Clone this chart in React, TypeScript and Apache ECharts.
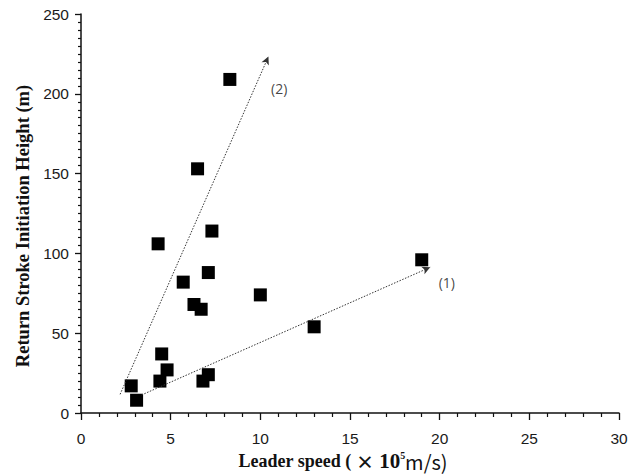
import React, { useEffect, useRef } from "react";
import * as echarts from "echarts";

// Leader speed (×10^5 m/s) and return-stroke initiation height (m)
const speeds = [2.8, 3.1, 4.4, 4.5, 4.8, 4.3, 5.7, 6.3, 6.7, 7.1, 6.8, 7.1, 10.0, 13.0, 19.0, 8.3, 6.5, 7.3];
const heights = [17, 8, 20, 37, 27, 106, 82, 68, 65, 88, 20, 24, 74, 54, 96, 209, 153, 114];

// Trend arrows: [startX, startY, endX, endY]
const trendNames = ["(1)", "(2)"];
const trendArrows = [
  [3.38, 11.3, 19.47, 91.3],
  [2.18, 11.7, 10.45, 223.3],
];
const trendLabelPos = [
  [20.4, 82],
  [11.05, 203.5],
];

const xTicks = [0, 30, 5];
const yTicks = [0, 250, 50];

export default function App() {
  const ref = useRef<HTMLDivElement>(null);

  useEffect(() => {
    if (!ref.current) return;
    const chart = echarts.init(ref.current, null, { renderer: "svg" });

    const axisColor = "#111";
    const tickFont = { fontFamily: "Liberation Sans", fontSize: 15.5, color: "#1a1a1a" };

    chart.setOption({
      animation: false,
      backgroundColor: "#fff",
      grid: { left: 81, right: 21, top: 14, bottom: 62 },
      xAxis: {
        type: "value",
        min: xTicks[0],
        max: xTicks[1],
        interval: xTicks[2],
        splitLine: { show: false },
        axisLine: { lineStyle: { color: axisColor, width: 1.5 } },
        axisTick: { length: 7, lineStyle: { color: axisColor, width: 1.3 } },
        minorTick: { show: true, splitNumber: 5, length: 4, lineStyle: { color: axisColor, width: 1.2 } },
        axisLabel: { ...tickFont, margin: 17 },
      },
      yAxis: {
        type: "value",
        min: yTicks[0],
        max: yTicks[1],
        interval: yTicks[2],
        splitLine: { show: false },
        axisLine: { show: true, lineStyle: { color: axisColor, width: 1.5 } },
        axisTick: { show: true, length: 6, lineStyle: { color: axisColor, width: 1.3 } },
        minorTick: { show: true, splitNumber: 10, length: 3, lineStyle: { color: axisColor, width: 1.2 } },
        axisLabel: { ...tickFont, margin: 12 },
      },
      graphic: [
        {
          type: "text",
          x: 22.5,
          y: 226,
          rotation: Math.PI / 2,
          style: {
            text: "Return Stroke Initiation Height (m)",
            font: "bold 18.5px 'Liberation Serif'",
            fill: "#111",
            align: "center",
            verticalAlign: "middle",
          },
        },
        {
          type: "text",
          x: 343,
          y: 461,
          style: {
            text: "{a|Leader speed ( }{b|×}{c| 10}{s|5}{d|m/s)}",
            align: "center",
            verticalAlign: "middle",
            rich: {
              a: { font: "bold 18px 'Liberation Serif'", fill: "#111" },
              b: { font: "bold 18px 'Noto Sans CJK JP'", fill: "#111" },
              c: { font: "bold 21px 'Liberation Serif'", fill: "#111" },
              s: { font: "bold 10px 'Liberation Serif'", fill: "#111", verticalAlign: "top", padding: [0, 0, 10, 0] },
              d: { font: "20px 'Noto Sans CJK JP'", fill: "#111" },
            },
          },
        },
      ],
      series: [
        {
          type: "scatter",
          symbol: "rect",
          symbolSize: 13,
          itemStyle: { color: "#000", opacity: 1 },
          data: speeds.map((s, i) => [s, heights[i]]),
          markLine: {
            silent: true,
            symbol: ["none", "arrow"],
            symbolSize: [6, 8],
            label: { show: false },
            lineStyle: { color: "#333", type: [1.5, 1.5], width: 1, opacity: 1 },
            data: trendArrows.map((a) => [
              { coord: [a[0], a[1]] },
              { coord: [a[2], a[3]] },
            ]),
          },
        },
        {
          type: "scatter",
          symbolSize: 0,
          silent: true,
          data: trendLabelPos.map((p, i) => ({ value: p, name: trendNames[i] })),
          label: {
            show: true,
            position: "inside",
            formatter: (p: any) => p.name,
            fontFamily: "Open Sans",
            fontSize: 14,
            color: "#111",
          },
        },
      ],
    });

    return () => chart.dispose();
  }, []);

  return (
    <div
      ref={ref}
      style={{ position: "absolute", left: 0, top: 0, width: 640, height: 475 }}
    />
  );
}
